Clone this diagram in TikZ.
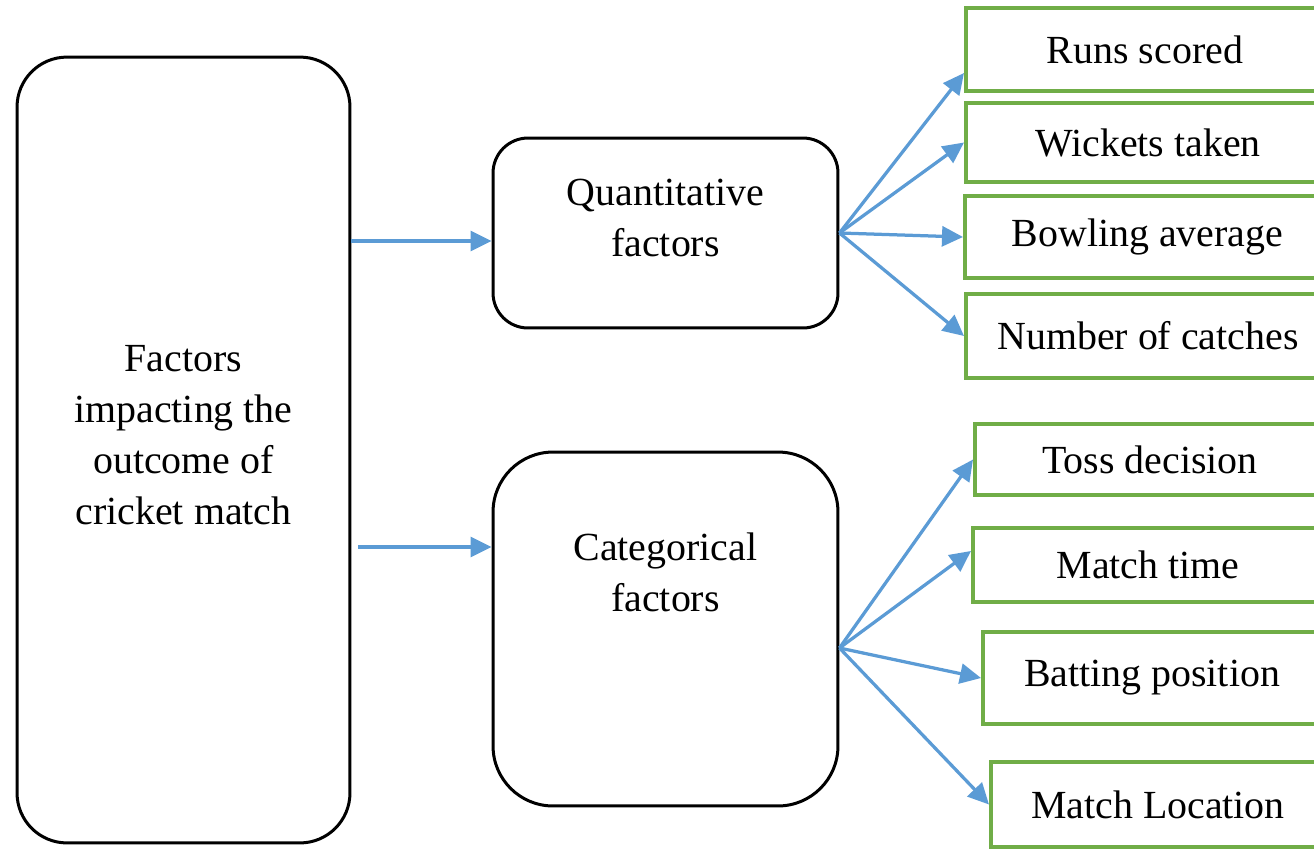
\documentclass[tikz,border=0pt]{standalone}
\usepackage{fontspec}
\setmainfont{Liberation Serif}
\usetikzlibrary{positioning,arrows.meta,calc}
\tikzset{every picture/.style={line width=0.8pt}}
\definecolor{flowblue}{RGB}{91,155,213}
\definecolor{leafgreen}{RGB}{112,173,71}
\tikzset{
    mainbox/.style={draw=black, line width=0.06cm, rounded corners=1cm, minimum width=6.66cm, minimum height=15.72cm},
    groupbox/.style={draw=black, line width=0.06cm, minimum width=6.9cm},
    leafbox/.style={draw=leafgreen, line width=0.08cm, anchor=west},
    flow/.style={draw=flowblue, line width=0.065cm, -{Triangle[length=0.42cm,width=0.4cm]}}
}

\begin{document}
\begin{tikzpicture}[x=0.02cm, y=-0.02cm, font=\fontsize{22.7}{29}\selectfont]
    \useasboundingbox (0,0) rectangle (1314,849);

    % Main box
    \node[mainbox] (factors) at (183.5,450) {};
    \node[align=center] (factorstext) at (183.5,435) {Factors\\impacting the\\outcome of\\cricket match};

    % Factor groups
    \node[groupbox, rounded corners=0.7cm, minimum height=3.8cm] (quant) at (665.5,233) {};
    \node[align=center] (quanttext) at (665.5,218) {Quantitative\\factors};
    \node[groupbox, rounded corners=1.2cm, minimum height=7.08cm] (cat) at (665.5,629) {};
    \node[align=center] (cattext) at (665.5,572) {Categorical\\factors};

    % Quantitative leaves
    \node[leafbox, minimum width=7.16cm, minimum height=1.66cm] (runs) at (964,49.5) {Runs scored};
    \node[leafbox, minimum width=7.28cm, minimum height=1.58cm] (wickets) at (964,142.5) {Wickets taken};
    \node[leafbox, minimum width=7.3cm, minimum height=1.64cm] (bowling) at (963,237) {Bowling average};
    \node[leafbox, minimum width=7.28cm, minimum height=1.68cm] (catches) at (964,336) {Number of catches};

    % Categorical leaves
    \node[leafbox, minimum width=7.0cm, minimum height=1.42cm] (toss) at (973,459.5) {Toss decision};
    \node[leafbox, minimum width=7.0cm, minimum height=1.48cm] (mtime) at (971,565) {Match time};
    \node[leafbox, minimum width=6.76cm, minimum height=1.84cm] (batting) at (981,678) {Batting position};
    \node[leafbox, minimum width=6.68cm, minimum height=1.7cm] (location) at (989,804.5) {Match Location};

    % Main arrows
    \coordinate (qsrc) at ($(factors.east)+(0,-209)$);
    \coordinate (csrc) at ($(factors.east)+(7,97)$);
    \draw[flow] (qsrc) -- (quant.west |- qsrc);
    \draw[flow] (csrc) -- (cat.west |- csrc);

    % Fan out
    \coordinate (qfan) at (quant.east);
    \coordinate (cfan) at ($(cat.east)+(0,19)$);
    \draw[flow] (qfan) -- ($(runs.south west)!0.23!(runs.north west)$);
    \foreach \leaf in {wickets,bowling,catches}
        \draw[flow] (qfan) -- (\leaf.west);
    \draw[flow] (cfan) -- ($(mtime.south west)!0.68!(mtime.north west)$);
    \foreach \leaf in {toss,batting,location}
        \draw[flow] (cfan) -- (\leaf.west);
\end{tikzpicture}
\end{document}
